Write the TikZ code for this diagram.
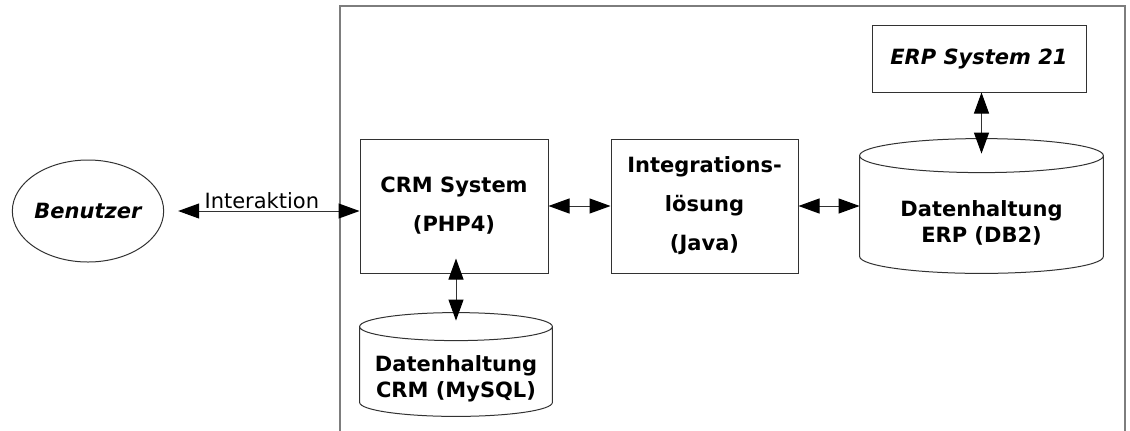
\documentclass[tikz,border=0pt]{standalone}
\usepackage{fontspec}
\setmainfont{DejaVu Sans}
\usetikzlibrary{calc}
\usetikzlibrary{arrows.meta}
\usetikzlibrary{shapes.geometric}
\definecolor{box-gray}{RGB}{50, 50, 50}
\definecolor{frame-gray}{RGB}{125, 125, 125}

% #1 = node, #2 = cap radius
\newcommand{\dbcyl}[2]{%
  \draw[boxline] let \p1=(#1.west), \p2=(#1.east) in
    ($(#1.north west)-(0,#2)$) -- ($(#1.south west)-(0,#2)$)
    arc[start angle=180, end angle=360, x radius={(\x2-\x1)/2}, y radius=#2*0.5pt]
    -- ($(#1.north east)-(0,#2)$)
    ($(#1.north)-(0,#2)$) ellipse[x radius={(\x2-\x1)/2}, y radius=#2*0.5pt];
}

\begin{document}
\begin{tikzpicture}[x=0.5pt, y=-0.5pt,
  boxline/.style={draw=box-gray, line width=0.5pt},
  sysbox/.style={boxline, rectangle, inner sep=0pt, align=center,
    font=\bfseries\fontsize{10.5}{19.5}\selectfont},
  dbtext/.style={rectangle, inner sep=0pt, align=center,
    font=\bfseries\fontsize{10.5}{13}\selectfont},
  dblarrow/.style={draw=box-gray, line width=0.5pt,
    {Triangle[length=10.5pt, width=7.5pt, color=black]}-{Triangle[length=10.5pt, width=7.5pt, color=black]}}]
\useasboundingbox (0,0) rectangle (1130,430);
\draw[draw=frame-gray, line width=0.75pt] (340,432) -- (340,6) -- (1125,6) -- (1125,432);

\node[boxline, ellipse, minimum width=75pt, minimum height=51pt, inner sep=0pt,
  font=\bfseries\itshape\fontsize{10.5}{13}\selectfont] (user) at (88,211) {Benutzer};
\node[sysbox, minimum width=94pt, minimum height=67pt] (crm) at (454,206) {CRM System\\(PHP4)};
\node[sysbox, minimum width=93.5pt, minimum height=67pt] (integ) at (704.5,206) {Integrations-\\lösung\\(Java)};
\node[sysbox, minimum width=107pt, minimum height=33.5pt,
  font=\bfseries\itshape\fontsize{10.5}{13}\selectfont] (erp) at (979,58.5) {ERP System 21};
\node[dbtext, minimum width=121.5pt, minimum height=50pt] (erpdb) at (981.5,223) {Datenhaltung\\ERP (DB2)};
\node[dbtext, minimum width=96pt, minimum height=37.5pt] (crmdb) at (456,378.5) {Datenhaltung\\CRM (MySQL)};
\dbcyl{erpdb}{17}
\dbcyl{crmdb}{14}

\coordinate (erpcap) at ($(erpdb.north)-(0,19)$);
\coordinate (crmcap) at ($(crmdb.north)-(0,20)$);

\draw[dblarrow, shorten <=7pt] (user.east) -- node[above, inner sep=1pt, font=\fontsize{10.5}{13}\selectfont] {Interaktion} (user.east -| crm.west);
\draw[dblarrow] (crm.east) -- (integ.west);
\draw[dblarrow] (integ.east) -- (integ.east -| erpdb.west);
\draw[dblarrow] (erp.south -| erpcap) -- (erpcap);
\draw[dblarrow, shorten <=-7.5pt] (crm.south -| crmcap) -- (crmcap);
\end{tikzpicture}
\end{document}
